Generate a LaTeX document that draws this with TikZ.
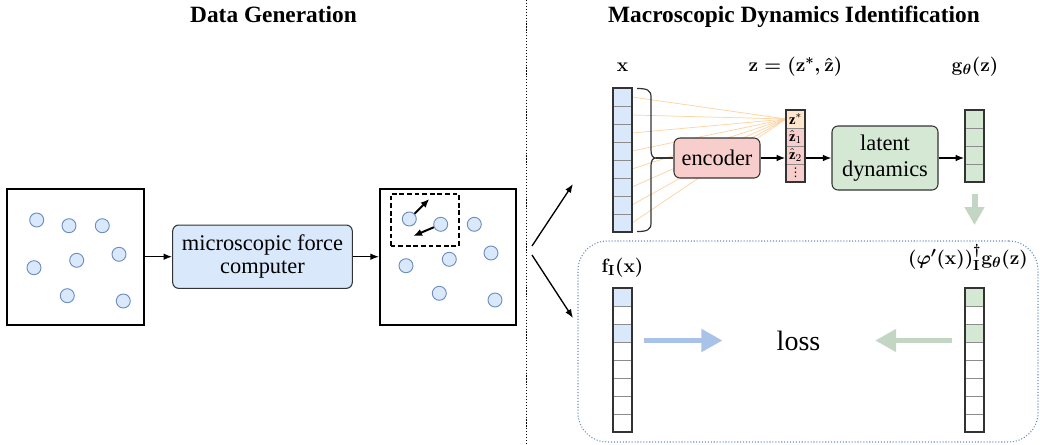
\documentclass[tikz,border=0pt]{standalone}
\usepackage{fontspec}
\setmainfont{Liberation Serif}
\newfontfamily\symfont{DejaVu Sans}
\usepackage{amsmath}
\usetikzlibrary{arrows.meta,fit,calc}

\definecolor{paleblue}{HTML}{DAE8FC}
\definecolor{blueline}{HTML}{6C8EBF}
\definecolor{palered}{HTML}{F8CECC}
\definecolor{palegreen}{HTML}{D5E8D4}
\definecolor{paleorange}{HTML}{FFE6CC}
\definecolor{fanorange}{HTML}{FCD3A3}
\definecolor{edge}{HTML}{333333}
\definecolor{cellgray}{HTML}{8C8C8C}
\definecolor{bluearrow}{HTML}{A9C2E8}
\definecolor{greenarrow}{HTML}{C3D5C3}

\pgfdeclarelayer{background}
\pgfsetlayers{background,main}

\begin{document}
\begin{tikzpicture}[x=0.75pt,y=-0.75pt,
  title/.style={font=\fontsize{17.5}{20}\selectfont\bfseries, anchor=base},
  proc/.style={font=\fontsize{16.8}{17.5}\selectfont, align=center, draw=edge,
    line width=0.8pt, rounded corners=4.5pt, inner sep=0pt},
  simbox/.style={draw=black, line width=1.5pt, inner sep=0pt},
  particle/.style={circle, draw=blueline, fill=paleblue, line width=0.7pt,
    minimum size=10.5pt, inner sep=0pt},
  cell/.style={draw=cellgray, line width=0.5pt, minimum width=14.25pt,
    minimum height=13.5pt, inner sep=0pt, outer sep=0pt,
    font=\fontsize{11}{12}\selectfont},
  vecframe/.style={draw=edge, line width=1.1pt, inner sep=0pt},
  mlabel/.style={font=\fontsize{15.5}{18}\selectfont\boldmath, anchor=base, inner sep=0pt},
  flow/.style={-{Latex[length=6.5pt,width=5pt]}, line width=1pt},
  force/.style={-{Latex[length=6.5pt,width=5.5pt]}, line width=1.5pt},
  fan/.style={draw=fanorange, line width=0.55pt},
  bracket/.style={draw=edge, line width=0.9pt},
  fatblue/.style={draw=bluearrow, line width=3.75pt,
    -{Triangle[length=15.75pt,width=16.5pt]}},
  fatgreen/.style={draw=greenarrow, line width=3.75pt,
    -{Triangle[length=15.75pt,width=16.5pt]}},
  downgreen/.style={draw=greenarrow, line width=4.5pt,
    -{Triangle[length=13.5pt,width=14.25pt]}},
]
\useasboundingbox (0,0) rectangle (1040,444);

% ---------- headings and divider ----------
\node[title] (tgen) at (273.5,22) {Data Generation};
\node[title] (tmac) at (794,22) {Macroscopic Dynamics Identification};
\coordinate (divtop) at (526,0);
\coordinate (divbot) at (526,444);
\draw[line width=0.6pt, dash pattern=on 0.9pt off 1.3pt] (divtop) -- (divbot);

% ---------- data generation ----------
\node[simbox, minimum width=102.75pt, minimum height=102pt] (box1) at (75.8,256.7) {};
\foreach \n/\px/\py in {1/36.7/220, 2/69/225.7, 3/102.3/225.7, 4/119/254.3,
                        5/76.7/260.3, 6/34/267.7, 7/67.3/295.7, 8/123.3/301}
  \node[particle] (p\n) at (\px,\py) {};

\node[proc, fill=paleblue, minimum width=134.7pt, minimum height=47.5pt]
  (forcecomp) at (262.5,256.7) {microscopic force\\computer};

\node[simbox, minimum width=102pt, minimum height=102.25pt] (box2) at (448,256.7) {};
\foreach \n/\px/\py in {1/409.3/219, 2/440.7/224.3, 3/474.3/224.3, 4/491/253,
                        5/449.3/259.3, 6/406/265.7, 7/439.3/293.3, 8/495/300}
  \node[particle] (q\n) at (\px,\py) {};
\node[draw, line width=1.3pt, dash pattern=on 3.5pt off 2.2pt,
      minimum width=51.2pt, minimum height=38.8pt, inner sep=0pt] (focus) at (424.8,219.8) {};
\coordinate (f1) at (429.3,199);
\coordinate (f2) at (413.3,236);
\draw[force] (q1) -- (f1);
\draw[force] (q2) -- (f2);

\draw[flow] (box1.east) -- (forcecomp.west);
\draw[flow] (forcecomp.east) -- (box2.west);

% ---------- split towards the two branches ----------
\coordinate (splitA) at (532,246);
\coordinate (toEnc) at (573,184);
\coordinate (splitB) at (532,255);
\coordinate (toLoss) at (573,318);
\draw[flow] (splitA) -- (toEnc);
\draw[flow] (splitB) -- (toLoss);

% ---------- encoder branch ----------
\foreach \i in {1,...,8}
  \node[cell, fill=paleblue] (x\i) at (622.5,{79+18*\i}) {};
\node[vecframe, fit=(x1)(x8)] (xvec) {};
\node[mlabel] (xlab) at (622.5,71) {$\mathbf{x}$};

\coordinate (btip) at (656,158);
\draw[bracket] (637,88.5) .. controls (647,88.5) and (651,90) .. (651,97)
  -- (651,150) .. controls (651,155) and (652.5,158) .. (btip)
  .. controls (652.5,158) and (651,161) .. (651,166)
  -- (651,223) .. controls (651,230) and (647,231.5) .. (637,231.5);

\node[proc, fill=palered, minimum width=64.5pt, minimum height=30pt] (enc) at (717,158) {encoder};
\draw[bracket] (btip) -- (enc.west);

\node[cell, fill=paleorange] (zs) at (795.5,119) {$\mathbf{z}^{*}$};
\node[cell, fill=palered] (z1) at (795.5,137) {$\hat{\mathbf{z}}_1$};
\node[cell, fill=palered] (z2) at (795.5,155) {$\hat{\mathbf{z}}_2$};
\node[cell, fill=palered, font=\symfont\fontsize{9}{10}\selectfont] (z3) at (795.5,173) {⋮};
\node[vecframe, fit=(zs)(z3)] (zvec) {};
\node[mlabel] (zlab) at (795.5,71) {$\mathbf{z}=(\mathbf{z}^{*},\hat{\mathbf{z}})$};

\draw[flow] (enc.east) -- (enc.east -| zvec.west);

\node[proc, fill=palegreen, minimum width=79.5pt, minimum height=48pt,
      font=\fontsize{16.8}{19}\selectfont] (lat) at (885,158) {latent\\dynamics};
\draw[flow] (zvec.east |- lat.west) -- (lat.west);

\foreach \i in {1,...,4}
  \node[cell, fill=palegreen] (g\i) at (974.5,{101+18*\i}) {};
\node[vecframe, fit=(g1)(g4)] (gvec) {};
\node[mlabel] (glab) at (975,71) {$\mathbf{g}_{\theta}(\mathbf{z})$};
\draw[flow] (lat.east) -- (lat.east -| gvec.west);

\begin{pgfonlayer}{background}
  \foreach \i in {1,...,8}
    \draw[fan] (x\i.east) -- (zs.west);
\end{pgfonlayer}

\coordinate (gdown) at (974.5,225);
\draw[downgreen, shorten <=8.25pt] (gvec.south) -- (gdown);

% ---------- loss branch ----------
\node[draw=blueline, line width=0.8pt, dash pattern=on 0.8pt off 1.4pt,
      rounded corners=22pt, minimum width=345pt, minimum height=150.75pt]
  (lossbox) at (808,341.5) {};

\foreach \i/\c in {1/paleblue, 2/white, 3/paleblue, 4/white,
                   5/white, 6/white, 7/white, 8/white}
  \node[cell, fill=\c] (fc\i) at (622.5,{279+18*\i}) {};
\node[vecframe, fit=(fc1)(fc8)] (fvec) {};
\node[mlabel] (flab) at (622.5,272) {$\mathbf{f}_{\mathbf{I}}(\mathbf{x})$};

\foreach \i/\c in {1/palegreen, 2/white, 3/palegreen, 4/white,
                   5/white, 6/white, 7/white, 8/white}
  \node[cell, fill=\c] (hc\i) at (974.5,{279+18*\i}) {};
\node[vecframe, fit=(hc1)(hc8)] (hvec) {};
\node[mlabel] (hlab) at (968,264)
  {$(\varphi'(\mathbf{x}))^{\dagger}_{\mathbf{I}}\mathbf{g}_{\theta}(\mathbf{z})$};

\node[font=\fontsize{21}{24}\selectfont, inner sep=0pt] (loss) at (798.5,340.5) {loss};

\draw[fatblue, shorten <=8.25pt, shorten >=40.5pt] (loss.west -| fvec.east) -- (loss.west);
\draw[fatgreen, shorten <=9pt, shorten >=41pt] (loss.east -| hvec.west) -- (loss.east);

\end{tikzpicture}
\end{document}
